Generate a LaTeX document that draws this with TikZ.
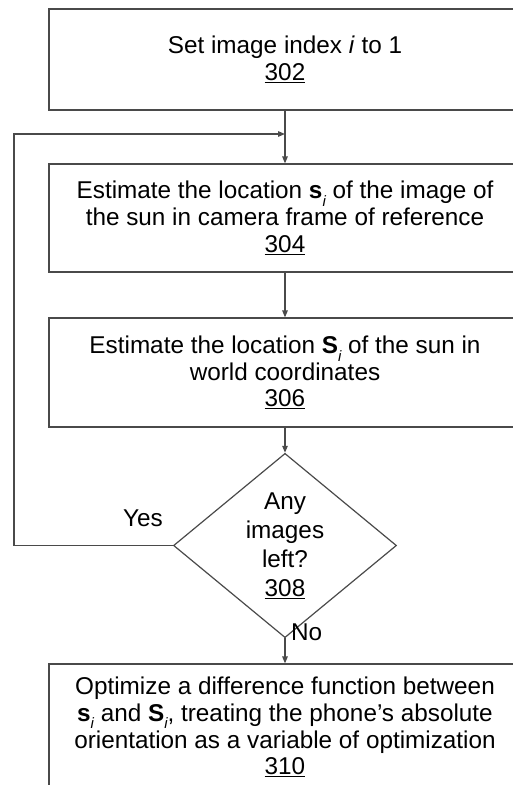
\documentclass[tikz,border=0pt]{standalone}
\usepackage{fontspec}
\setmainfont{Liberation Sans}
\usetikzlibrary{shapes.geometric,arrows.meta}
\newcommand{\isub}[1]{\raisebox{-0.6ex}{\fontsize{15}{15}\selectfont\itshape #1}}
\definecolor{linegray}{HTML}{4A4A4A}
\tikzset{
  flowbox/.style={draw=linegray, line width=1.2pt, rectangle, minimum width=472pt, align=center, inner sep=0pt,
    font=\fontsize{24.3}{26.8}\selectfont},
  decision/.style={draw=linegray, line width=1.2pt, diamond, minimum width=223pt, minimum height=147pt, align=center, inner sep=0pt,
    font=\fontsize{24.3}{29}\selectfont},
  lbl/.style={font=\fontsize{24.3}{26.8}\selectfont, inner sep=0pt},
  conn/.style={draw=linegray, line width=1.2pt, -{Triangle[length=7pt,width=5.5pt]}},
  plain/.style={draw=linegray, line width=1.2pt}
}
\begin{document}
\begin{tikzpicture}[x=1pt,y=-1pt]
\useasboundingbox (0,0) rectangle (513,785);
\clip (0,0) rectangle (513,785);
\fill[white] (0,0) rectangle (513,785);
\node[flowbox, minimum height=101pt] (b302) at (285,59.5) {Set image index \textit{i} to 1\\\underline{302}};
\node[flowbox, minimum height=108pt] (b304) at (285,218) {Estimate the location \textbf{s}\isub{i} of the image of\\the sun in camera frame of reference\\\underline{304}};
\node[flowbox, minimum height=109pt] (b306) at (285,372.5) {Estimate the location \textbf{S}\isub{i} of the sun in\\world coordinates\\\underline{306}};
\node[decision] (d308) at (285,545.5) {Any\\images\\left?\\\underline{308}};
\node[flowbox, minimum height=126pt] (b310) at (285,727) {Optimize a difference function between\\\textbf{s}\isub{i} and \textbf{S}\isub{i}, treating the phone’s absolute\\orientation as a variable of optimization\\\underline{310}};
\node[lbl] (yes) at (143,518) {Yes};
\node[lbl, anchor=west] (no) at (291,632) {No};
\coordinate (join) at (285,134);
\coordinate (cornerA) at (14,545.5);
\coordinate (cornerB) at (14,134);
\draw[conn] (b302.south) -- (b304.north);
\draw[conn] (b304.south) -- (b306.north);
\draw[conn] (b306.south) -- (d308.north);
\draw[conn] (d308.south) -- (b310.north);
\draw[conn] (d308.west) -- (cornerA) -- (cornerB) -- (join);
\end{tikzpicture}
\end{document}
